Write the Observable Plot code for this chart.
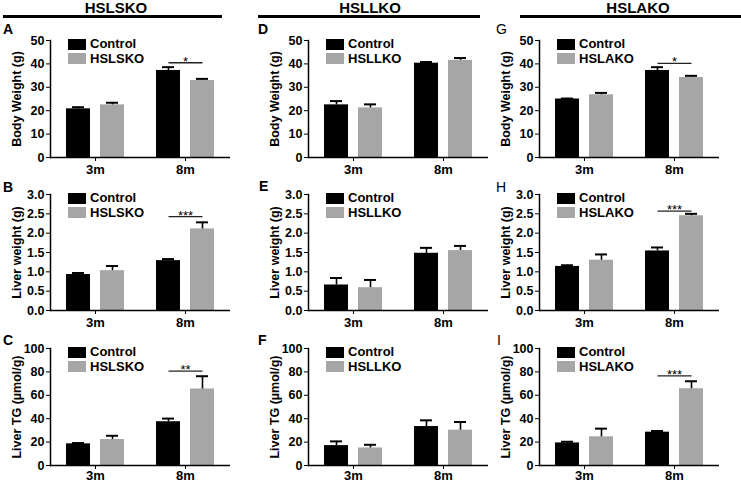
<!DOCTYPE html>
<html><head><meta charset="utf-8">
<script src="https://cdn.jsdelivr.net/npm/d3@7"></script>
<script src="https://cdn.jsdelivr.net/npm/@observablehq/plot@0.6"></script>
<style>
body{margin:0;background:#fff;font-family:"Liberation Sans",Arial,sans-serif;}
#root{position:relative;width:741px;height:483px;overflow:hidden;background:#fff;}
.abs{position:absolute;}
.hdr{position:absolute;top:-1px;font-size:15px;font-weight:bold;transform:translateX(-50%);white-space:nowrap;}
.hline{position:absolute;top:15px;height:3px;background:#000;}
.let{position:absolute;font-size:14px;line-height:14px;}
.leg{position:absolute;font-size:13px;font-weight:bold;line-height:14px;white-space:nowrap;}
.leg .row{display:flex;align-items:center;height:14.5px;}
.leg .sw{width:18px;height:11px;margin-right:4px;}
</style></head>
<body><div id="root"></div>
<script>
// ---- data ----
const ages = ["3m", "8m"];
const models = ["HSLSKO", "HSLLKO", "HSLAKO"];
const measures = ["Body Weight (g)", "Liver weight (g)", "Liver TG (µmol/g)"];
const yMaxes = [50, 3.0, 100];
const yTickSets = [[0, 10, 20, 30, 40, 50], [0, 0.5, 1.0, 1.5, 2.0, 2.5, 3.0], [0, 20, 40, 60, 80, 100]];
const panelLetters = ["A", "B", "C", "D", "E", "F", "G", "H", "I"];
// order in each array: 3m Control, 3m KO, 8m Control, 8m KO
const meanA = [20.8, 22.5, 37.2, 32.9], semA = [0.7, 0.9, 1.4, 0.7];
const meanB = [0.93, 1.03, 1.29, 2.11], semB = [0.04, 0.12, 0.04, 0.17];
const meanC = [18.5, 22.2, 37.4, 65.4], semC = [0.7, 3.2, 2.7, 10.9];
const meanD = [22.5, 21.2, 40.3, 41.5], semD = [1.6, 1.5, 0.5, 1.0];
const meanE = [0.66, 0.59, 1.48, 1.55], semE = [0.18, 0.20, 0.14, 0.12];
const meanF = [17.0, 15.0, 33.3, 30.2], semF = [3.6, 2.7, 5.3, 7.0];
const meanG = [25.0, 26.8, 37.2, 34.2], semG = [0.2, 0.8, 1.4, 0.7];
const meanH = [1.14, 1.30, 1.54, 2.45], semH = [0.03, 0.15, 0.09, 0.05];
const meanI = [19.3, 24.5, 28.5, 65.6], semI = [1.0, 7.0, 1.0, 6.4];
const sigA = [{age: "8m", y: 40.5, label: "*"}];
const sigB = [{age: "8m", y: 2.43, label: "***"}];
const sigC = [{age: "8m", y: 80.6, label: "**"}];
const sigD = [], sigE = [], sigF = [];
const sigG = [{age: "8m", y: 40.2, label: "*"}];
const sigH = [{age: "8m", y: 2.57, label: "***"}];
const sigI = [{age: "8m", y: 76.6, label: "***"}];

const means = [[meanA, meanB, meanC], [meanD, meanE, meanF], [meanG, meanH, meanI]];
const sems = [[semA, semB, semC], [semD, semE, semF], [semG, semH, semI]];
const sigs = [[sigA, sigB, sigC], [sigD, sigE, sigF], [sigG, sigH, sigI]];

// ---- layout ----
const colLeft = [0, 247, 494], colMarginLeft = [50, 61, 45], colWidth = [245, 245, 247];
const rowTop = [22, 177, 329], rowMarginTop = [18, 17, 19], rowPlotH = [117, 116, 117], rowMarginBottom = [20, 20, 18];
const rowTickPad = [3, 3, 1];
const plotW = 180;
const gray = "#a6a6a6";
const root = document.getElementById("root");

function el(cls, html, css) {
  const d = document.createElement("div");
  d.className = cls; d.innerHTML = html; Object.assign(d.style, css); root.appendChild(d); return d;
}

const hdrX = [116, 370, 638], lineX = [[3, 222], [258, 480], [520, 745]];
models.forEach((m, c) => {
  el("hdr", m, {left: hdrX[c] + "px"});
  el("hline", "", {left: lineX[c][0] + "px", width: (lineX[c][1] - lineX[c][0]) + "px"});
});

const letterPos = [[3, 22], [3, 180], [3, 333], [258, 22], [259, 179], [258, 333], [496, 22], [496, 180], [497, 333]];

for (let c = 0; c < 3; c++) {
  for (let r = 0; r < 3; r++) {
    const model = models[c];
    const groups = ["Control", model];
    const mean = means[c][r], sem = sems[c][r], sig = sigs[c][r];
    const rows = [];
    ages.forEach((a, i) => groups.forEach((g, j) => rows.push({age: a, group: g, mean: mean[i * 2 + j], sem: sem[i * 2 + j]})));
    const width = colWidth[c], marginLeft = colMarginLeft[c], marginRight = width - marginLeft - plotW;
    const marginTop = rowMarginTop[r], marginBottom = rowMarginBottom[r];
    const height = marginTop + rowPlotH[r] + marginBottom;
    const fmt = r === 1 ? d3.format(".1f") : d3.format("d");
    const chart = Plot.plot({
      width, height, marginLeft, marginRight, marginTop, marginBottom,
      style: {fontFamily: "'Liberation Sans', Arial, sans-serif", fontSize: "13px", fontWeight: "bold", color: "#000", background: "transparent", overflow: "visible"},
      fx: {domain: ages, padding: 0, label: null},
      x: {domain: groups, axis: null, paddingInner: 0.3, paddingOuter: 0.47},
      y: {domain: [0, yMaxes[r]]},
      color: {domain: groups, range: ["#000", gray]},
      marks: [
        Plot.barY(rows, {fx: "age", x: "group", y: "mean", fill: "group"}),
        Plot.ruleX(rows, {fx: "age", x: "group", y1: "mean", y2: d => d.mean + d.sem, stroke: "#000", strokeWidth: 1.6}),
        Plot.tickY(rows, {fx: "age", x: "group", y: d => d.mean + d.sem, stroke: "#000", strokeWidth: 2, insetLeft: 6, insetRight: 6}),
        Plot.link(sig, {fx: "age", x1: () => "Control", x2: () => model, y1: "y", y2: "y", stroke: "#222", strokeWidth: 1.3}),
        Plot.text(sig, {fx: "age", y: "y", text: "label", lineAnchor: "bottom", dy: 3, fontSize: 13, fontWeight: "normal"}),
        Plot.ruleY([0], {stroke: "#000", strokeWidth: 1.5}),
        Plot.frame({anchor: "left", facetAnchor: "left", stroke: "#000", strokeWidth: 1.5}),
        Plot.axisY({ticks: yTickSets[r], tickFormat: fmt, tickSize: 4, tickPadding: 2, label: measures[r], labelAnchor: "center", labelOffset: 38, labelArrow: "none", fontSize: 12.5}),
        Plot.axisFx({anchor: "bottom", tickSize: 4, tickPadding: rowTickPad[r], label: null})
      ]
    });
    const wrap = el("abs", "", {left: colLeft[c] + "px", top: rowTop[r] + "px", width: width + "px", height: height + "px"});
    wrap.appendChild(chart);
    // legend
    const lg = el("leg", "", {left: (colLeft[c] + marginLeft + 18) + "px", top: (rowTop[r] + marginTop - 3) + "px"});
    lg.innerHTML = groups.map((g, j) => `<div class="row"><div class="sw" style="background:${j ? gray : "#000"}"></div>${g}</div>`).join("");
    const lp = letterPos[c * 3 + r];
    el("let", panelLetters[c * 3 + r], {left: lp[0] + "px", top: lp[1] + "px", fontWeight: c < 2 ? "bold" : "normal"});
  }
}
</script></body></html>
